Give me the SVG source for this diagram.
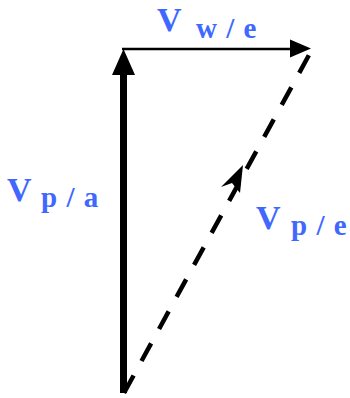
<svg xmlns="http://www.w3.org/2000/svg" width="350" height="398" viewBox="0 0 350 398">
<style>
.lbl{font-family:"Liberation Serif","Times New Roman",serif;font-weight:bold;fill:#4068ff}
.big{font-size:34px}
.sub{font-size:29px;letter-spacing:1px}
</style>
<rect width="350" height="398" fill="#ffffff"/>
<g id="connectors">
<g id="v-pa">
<line x1="123.5" y1="70" x2="123.5" y2="393" stroke="#000" stroke-width="7"/>
<polygon points="123.5,49 112,75 135,75" fill="#000"/>
</g>
<g id="v-we">
<line x1="122" y1="49" x2="292" y2="49" stroke="#000" stroke-width="2.5"/>
<polygon points="311,48.5 290,39.5 290,57.5" fill="#000"/>
</g>
<g id="v-pe">
<line x1="124" y1="393" x2="309" y2="55" stroke="#000" stroke-width="4.5" stroke-dasharray="20 16.5"/>
<polygon points="243,165 221,187 232,183 240,193" fill="#000"/>
</g>
</g>
<g id="label-we">
<text class="lbl" x="157" y="31"><tspan class="big">V</tspan><tspan class="sub" x="196" y="38">w / e</tspan></text>
</g>
<g id="label-pa">
<text class="lbl" x="7" y="201"><tspan class="big">V</tspan><tspan class="sub" x="41" y="207">p / a</tspan></text>
</g>
<g id="label-pe">
<text class="lbl" x="256" y="229"><tspan class="big">V</tspan><tspan class="sub" x="291" y="235">p / e</tspan></text>
</g>
</svg>
